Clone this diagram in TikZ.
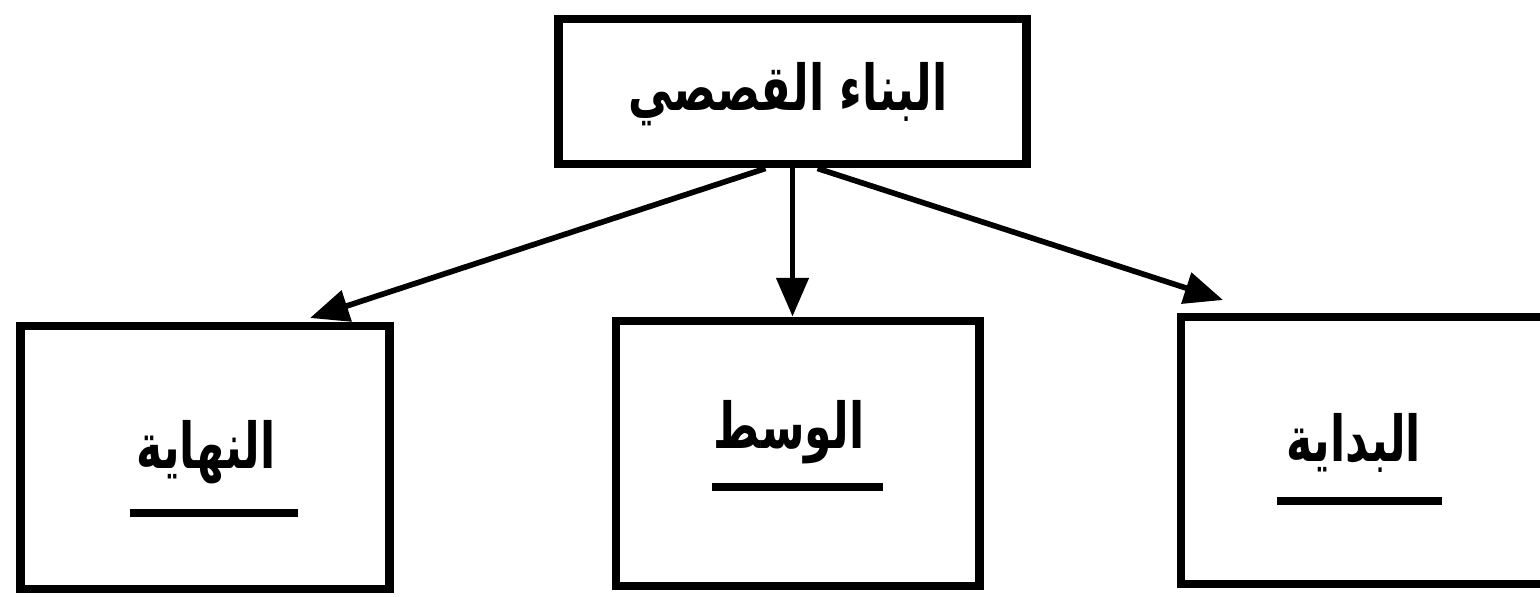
\documentclass[tikz,border=0pt]{standalone}
\usepackage{fontspec}
\newfontfamily\arabicfont[Script=Arabic]{DejaVu Sans}
\TeXXeTstate=1
\usetikzlibrary{positioning,arrows.meta}

\newcommand{\arword}[1]{\scalebox{0.7}[1]{\beginR #1\endR}}

\tikzset{
  part/.style={draw,line width=2.5pt,inner sep=0pt},
  word/.style={font=\arabicfont\bfseries\fontsize{18}{22}\selectfont,inner sep=0pt},
  rule/.style={line width=2.4pt},
  link/.style={line width=1.6pt,-{Triangle[length=11pt,width=9pt]}}
}

\begin{document}
\begin{tikzpicture}[x=0.01cm,y=-0.01cm]
	\useasboundingbox (0,0) rectangle (1540,596);
	% boxes
	\node[part,minimum width=4.67cm,minimum height=1.45cm] (story) at (792.5,91.5) {};
	\node[part,minimum width=3.68cm,minimum height=2.63cm] (end) at (205,457.5) {};
	\node[part,minimum width=3.63cm,minimum height=2.65cm] (mid) at (797.5,453.5) {};
	\node[part,minimum width=3.79cm,minimum height=2.67cm] (begin) at (1370.5,450.5) {};
	% texts
	\node[word] (storytxt) at (788,94) {\arword{البناء القصصي}};
	\node[word] (endtxt) at (206,452) {\arword{النهاية}};
	\node[word] (midtxt) at (789,432) {\arword{الوسط}};
	\node[word] (begintxt) at (1354,443) {\arword{البداية}};
	\draw[rule] (130,513) -- (298,513);
	\draw[rule] (712,487) -- (883,487);
	\draw[rule] (1277,501) -- (1442,501);
	% arrows
	\coordinate (tipL) at (310,318);
	\coordinate (tipR) at (1223,300);
	\draw[link] ([xshift=-0.27cm]story.south) -- (tipL);
	\draw[link] (story.south) -- (story.south |- mid.north);
	\draw[link] ([xshift=0.25cm]story.south) -- (tipR);
\end{tikzpicture}
\end{document}
